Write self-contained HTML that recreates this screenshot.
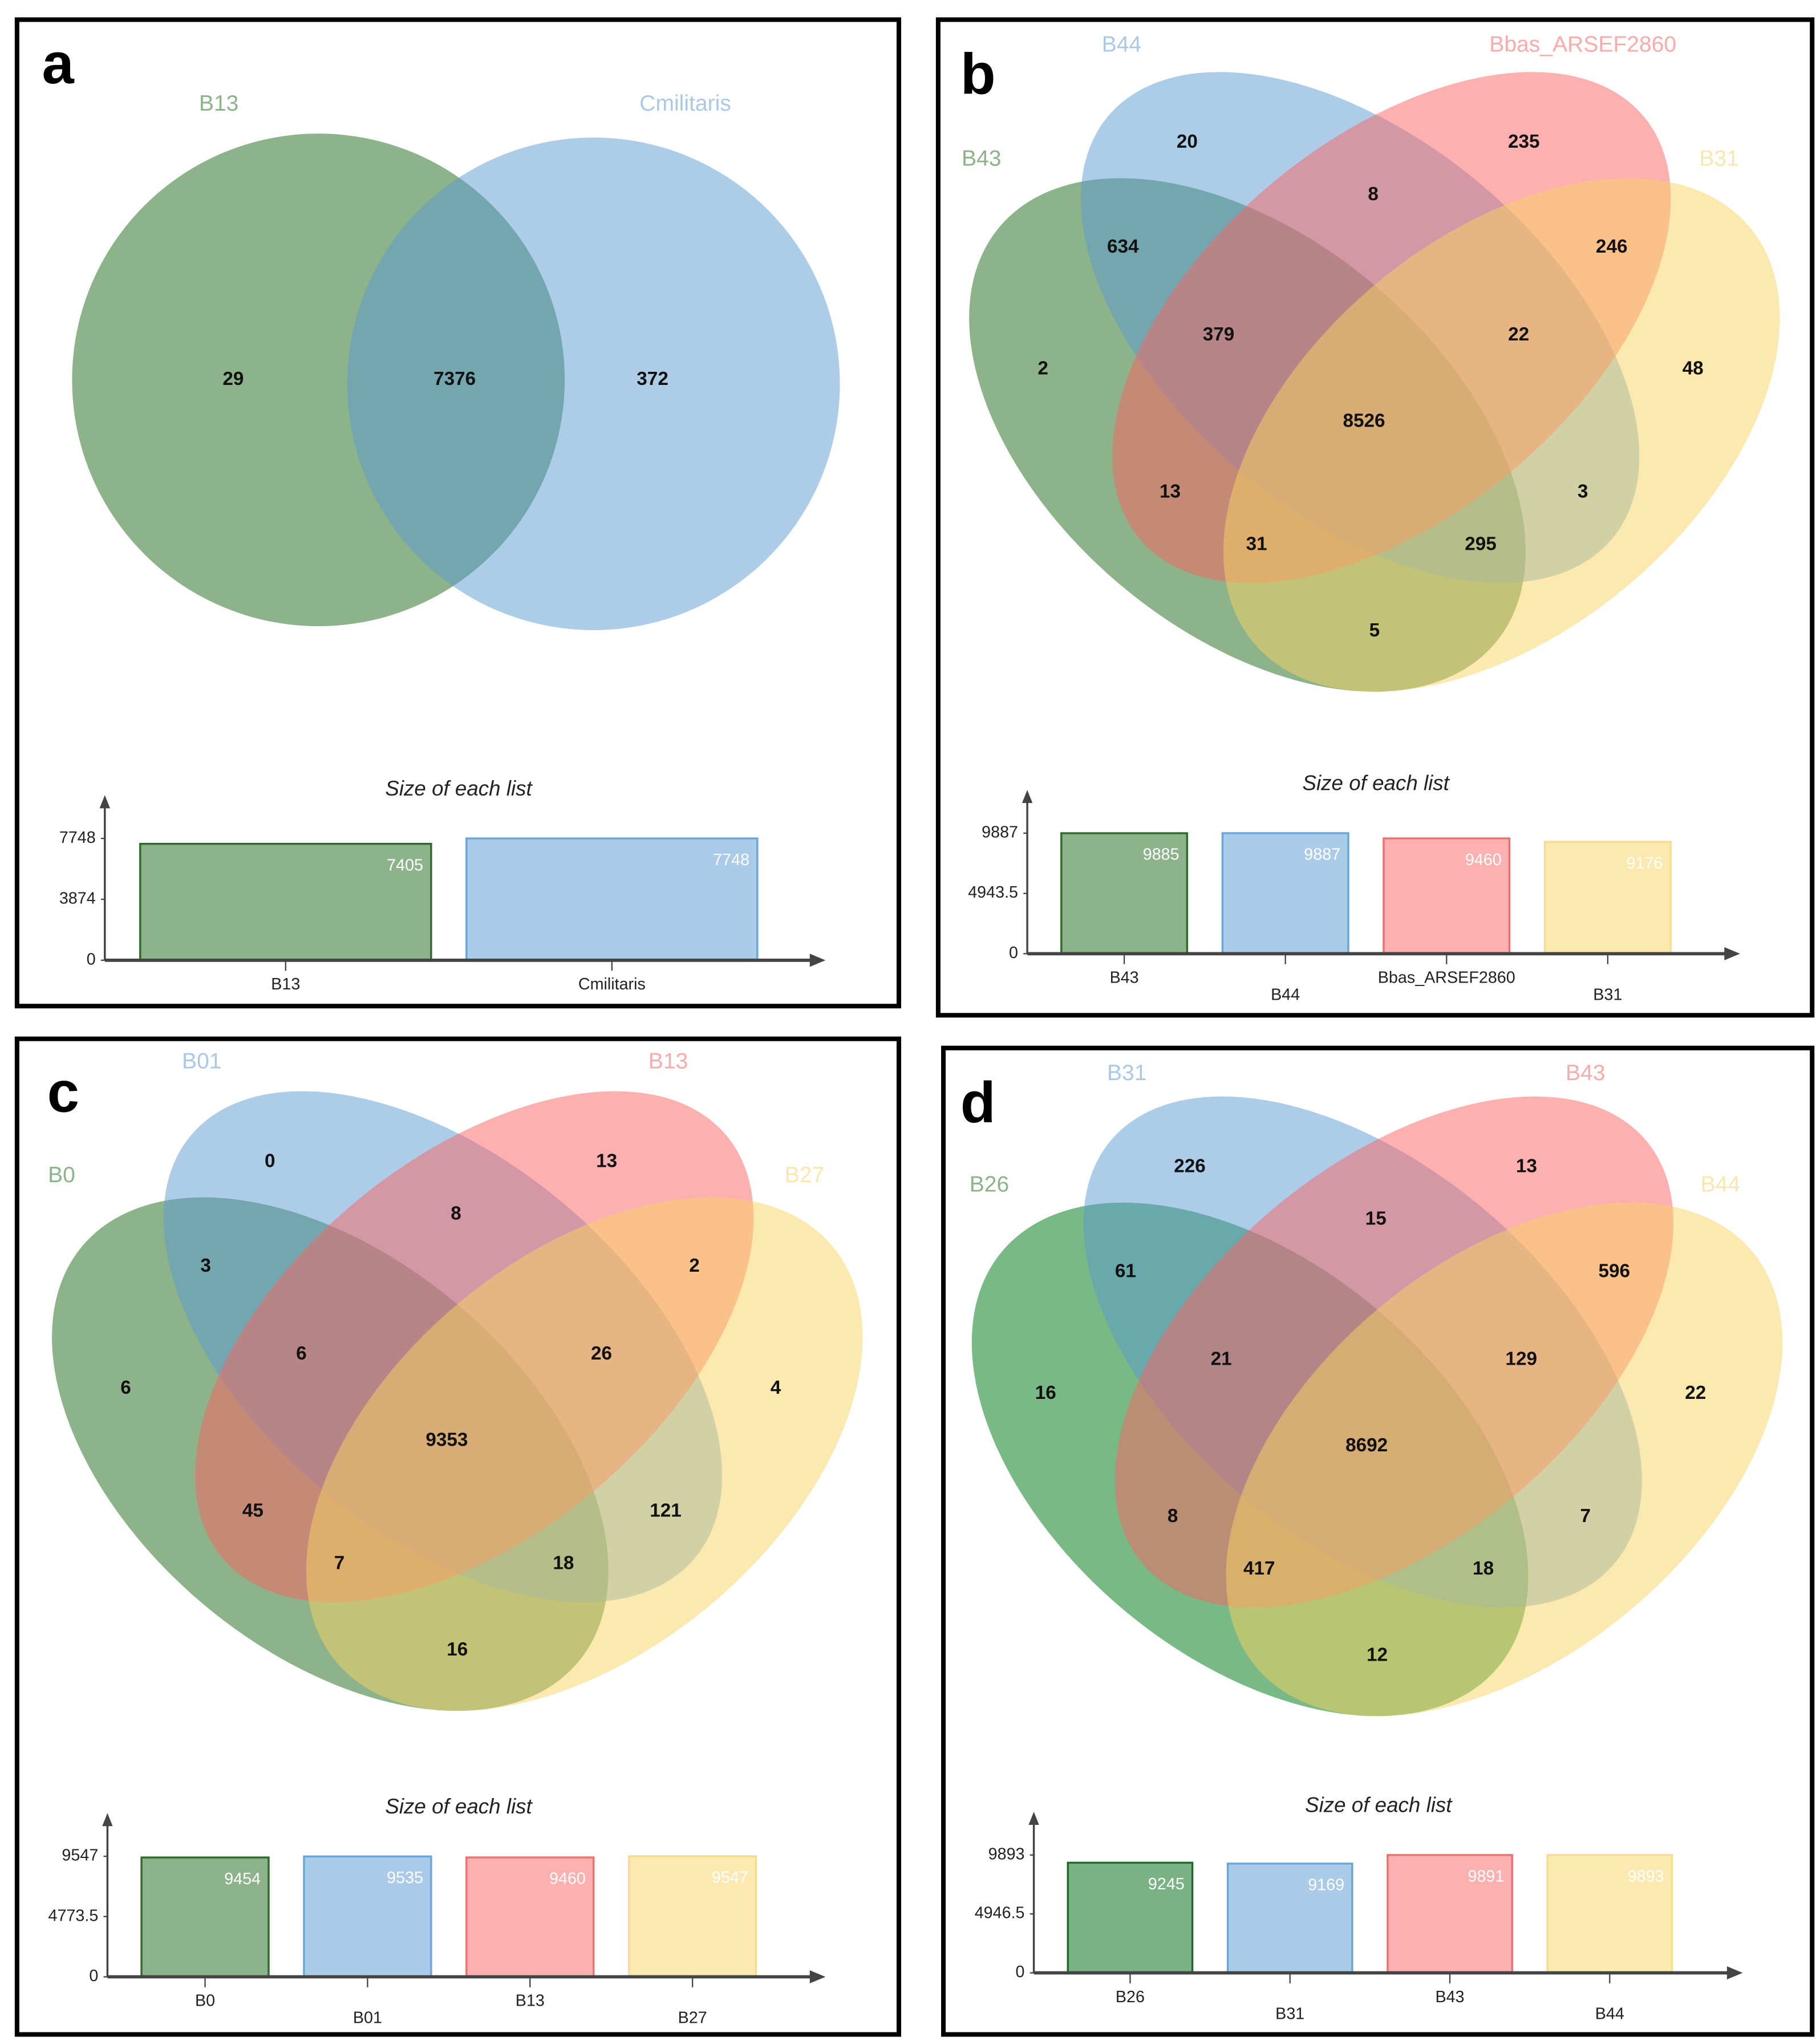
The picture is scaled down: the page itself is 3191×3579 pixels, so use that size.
<!DOCTYPE html>
<html><head><meta charset="utf-8"><style>
html,body{margin:0;padding:0;background:#fff}
svg{display:block}
text{font-family:"Liberation Sans",Arial,sans-serif}
.num{font-weight:bold;font-size:14.5px;fill:#111;text-anchor:middle;dominant-baseline:middle}
.set{font-size:17px;text-anchor:middle;dominant-baseline:middle}
.tick{font-size:12.5px;fill:#222;text-anchor:end;dominant-baseline:middle}
.xl{font-size:12.5px;fill:#222;text-anchor:middle;dominant-baseline:middle}
.val{font-size:12.5px;fill:#fff;text-anchor:end;dominant-baseline:middle}
.ttl{font-size:16px;font-style:italic;fill:#222;text-anchor:middle;dominant-baseline:middle}
.let{font-size:44px;font-weight:bold;fill:#000;dominant-baseline:middle}
</style></head><body>
<svg id="fig" width="3191" height="3579" viewBox="0 0 1389 1558" preserveAspectRatio="none" xmlns="http://www.w3.org/2000/svg"></svg>
<script>
// ---- data ----
const aSets = ["B13","Cmilitaris"];
const aCounts = [29,7376,372];
const aSizes = [7405,7748];
const aTicks = ["0","3874","7748"];

const bSets = ["B43","B44","Bbas_ARSEF2860","B31"];
const bCounts = [20,235,8,634,246,379,22,2,48,8526,13,3,31,295,5];
const bSizes = [9885,9887,9460,9176];
const bTicks = ["0","4943.5","9887"];

const cSets = ["B0","B01","B13","B27"];
const cCounts = [0,13,8,3,2,6,26,6,4,9353,45,121,7,18,16];
const cSizes = [9454,9535,9460,9547];
const cTicks = ["0","4773.5","9547"];

const dSets = ["B26","B31","B43","B44"];
const dCounts = [226,13,15,61,596,21,129,16,22,8692,8,7,417,18,12];
const dSizes = [9245,9169,9891,9893];
const dTicks = ["0","4946.5","9893"];

const NS="http://www.w3.org/2000/svg";
const svg=document.getElementById('fig');
function mk(tag,attrs,parent,txt){const e=document.createElementNS(NS,tag);for(const k in attrs)e.setAttribute(k,attrs[k]);if(txt!==undefined)e.textContent=txt;(parent||svg).appendChild(e);return e;}

const regPos=[[906,109],[1163,109],[1048,149],[857,189],[1230,189],[930,256],[1159,256],[796,282],[1292,282],[1041,322],[893,376],[1208,376],[959,416],[1130,416],[1049,482]];

const frames=[[13,15,673,753],[716,15,667,760],[13,793,673,760],[720,800,663,753]];
frames.forEach((f,i)=>{
  const r=mk('rect',{x:f[0],y:f[1],width:f[2],height:f[3],fill:'none',stroke:'#000','stroke-width':3.5});
  
  
});
const letters=[['a',32,52],['b',733,60],['c',36,837],['d',733,845]];
letters.forEach(l=>{const t=mk('text',{x:l[1],y:l[2],class:'let'},svg,l[0]);
  
  });

(function(){
  const g=mk('g',{});
  
  
  const c1=mk('circle',{cx:243,cy:290,r:188,fill:'#196715','fill-opacity':0.5},g);
  
  const c2=mk('circle',{cx:453,cy:293,r:188,fill:'#5999d1','fill-opacity':0.5},g);
  
  const pos=[[178,290],[347,290],[498,290]];
  aCounts.forEach((v,i)=>{const t=mk('text',{x:pos[i][0],y:pos[i][1],class:'num'},g,v);
    });
  const s1=mk('text',{x:167,y:80,class:'set',fill:'#8cb38a'},g,aSets[0]);
  
  const s2=mk('text',{x:523,y:80,class:'set',fill:'#a9c9e6'},g,aSets[1]);
  
})();

function venn4(dx,dy,sets,counts,greenFill,greenOp,key,labelPos){
  const g=mk('g',{transform:`translate(${dx},${dy})`});
  
  
  const ell=[[952,332,40,247,150,greenFill,greenOp],[1038,250,40,251,143,'#5999d1',0.5],[1062,250,-40,251,143,'#fb6161',0.5],[1146,332,-40,247,150,'#f7d361',0.5]];
  ell.forEach((e,i)=>{
    const el=mk('ellipse',{cx:0,cy:0,rx:e[3],ry:e[4],fill:e[5],'fill-opacity':e[6],transform:`translate(${e[0]},${e[1]}) rotate(${e[2]})`},g);
    
    
  });
  counts.forEach((v,i)=>{const t=mk('text',{x:regPos[i][0],y:regPos[i][1],class:'num'},g,v);
    });
  const cols=['#8cb38a','#a9c9e6','#fcaaaa','#fbe7ad'];
  sets.forEach((s,i)=>{const t=mk('text',{x:labelPos[i][0],y:labelPos[i][1],class:'set',fill:cols[i]},g,s);
    });
}
venn4(0,0,bSets,bCounts,'#196715',0.5,'b',[[749,122],[856,35],[1208,35],[1312,122]]);
venn4(-700,778,cSets,cCounts,'#196715',0.5,'c',[[747,120],[854,33],[1210,33],[1314,120]]);
venn4(2,782,dSets,dCounts,'#1f8a35',0.6,'d',[[753,123],[858,38],[1208,38],[1311,123]]);

function bars(key,sets,sizes,ticks,ax,y0,ytop,bx,bw,gap,xEnd,yArrow,titleX,stagger,fills,strokes){
  const g=mk('g',{});
  
  
  const max=parseFloat(ticks[ticks.length-1]);
  const Y=v=>y0-v/max*(y0-ytop);
  const t=mk('text',{x:titleX,y:ytop-37,class:'ttl'},g,'Size of each list');
  
  sizes.forEach((v,i)=>{
    const x=bx+i*(bw+gap);
    const r=mk('rect',{x:x,y:Y(v),width:bw,height:y0-Y(v),fill:fills[i],stroke:strokes[i],'stroke-width':1.5},g);
    
    const vl=mk('text',{x:x+bw-6,y:Y(v)+17,class:'val'},g,v);
    
    const cx=x+bw/2;
    mk('line',{x1:cx,y1:y0,x2:cx,y2:y0+8,stroke:'#444','stroke-width':1},g);
    const ly=y0+19+(stagger&&i%2===1?13:0);
    const xl=mk('text',{x:cx,y:ly,class:'xl'},g,sets[i]);
    
  });
  ticks.forEach(tk=>{const v=parseFloat(tk);
    mk('line',{x1:ax-3,y1:Y(v),x2:ax,y2:Y(v),stroke:'#444','stroke-width':1},g);
    const tt=mk('text',{x:ax-7,y:Y(v),class:'tick'},g,tk);
    });
  const ya=mk('line',{x1:ax,y1:y0,x2:ax,y2:yArrow+8,stroke:'#444','stroke-width':1.5},g);
  
  mk('polygon',{points:`${ax-4},${yArrow+10} ${ax+4},${yArrow+10} ${ax},${yArrow}`,fill:'#444'},g);
  const xa=mk('line',{x1:ax,y1:y0,x2:xEnd-8,y2:y0,stroke:'#444','stroke-width':2.5},g);
  
  mk('polygon',{points:`${xEnd-12},${y0-5} ${xEnd-12},${y0+5} ${xEnd},${y0}`,fill:'#444'},g);
}
const F=['#8cb38a','#abcce8','#fdb0b0','#fbe9b0'];
const S=['#2f6a2c','#6aa6d8','#f07070','#f5dc90'];
bars('a',aSets,aSizes,aTicks,80,733,640,107,222,27,630,607,350,false,[F[0],F[1]],[S[0],S[1]]);
bars('b',bSets,bSizes,bTicks,784,728,636,810,96,27,1328,603,1050,true,F,S);
bars('c',cSets,cSizes,cTicks,82,1509,1417,108,97,27,630,1384,350,true,F,S);
const Fd=['#7ab383','#abcce8','#fdb0b0','#fbe9b0'];
bars('d',dSets,dSizes,dTicks,789,1506,1416,815,95,27,1330,1383,1052,true,Fd,['#1f6a2a','#6aa6d8','#f07070','#f5dc90']);
</script>
</body></html>
